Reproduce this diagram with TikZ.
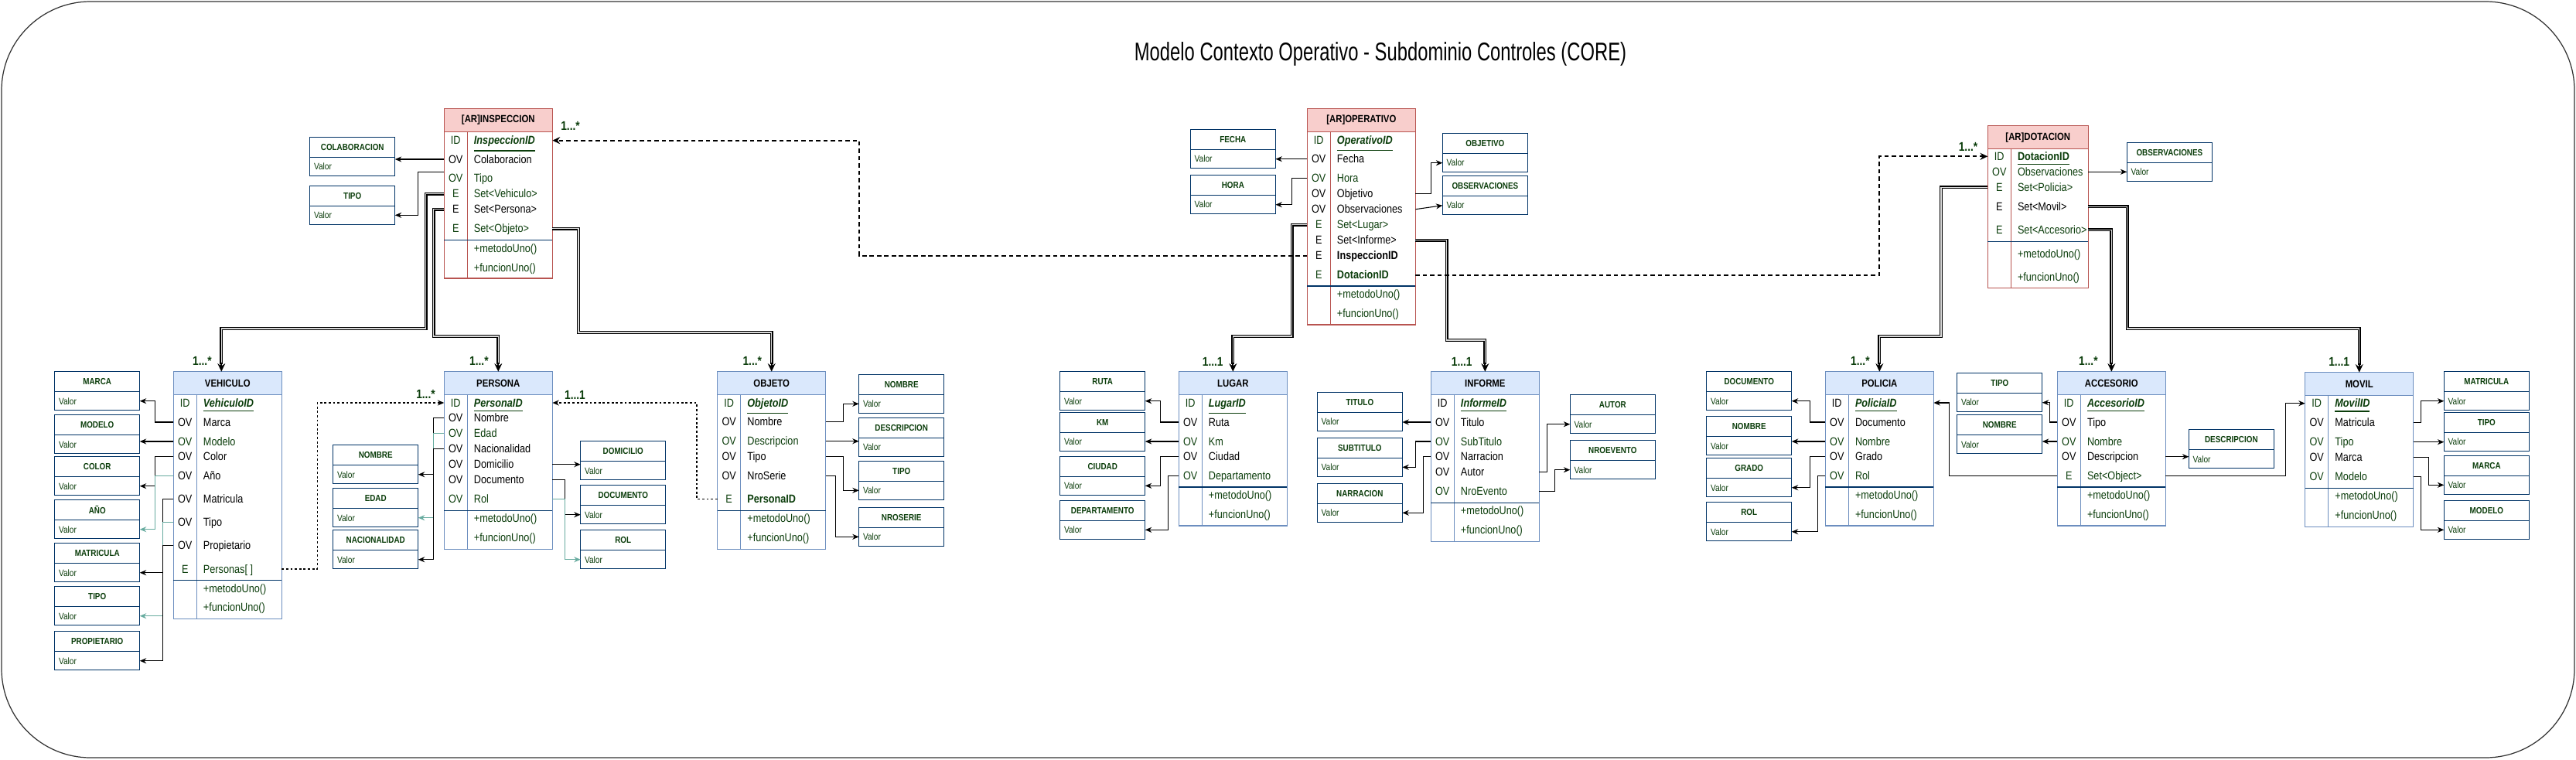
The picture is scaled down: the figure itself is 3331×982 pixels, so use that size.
\documentclass[tikz,border=0pt]{standalone}
\usepackage{fontspec}
\setmainfont[FakeStretch=0.85]{Liberation Sans}
\newfontfamily\fuentetitulo[FakeStretch=0.72]{Liberation Sans}
\usetikzlibrary{calc,positioning,arrows.meta}
\definecolor{verde}{HTML}{0B3D0B}
\definecolor{negro}{HTML}{000000}
\definecolor{azul}{HTML}{003366}
\definecolor{rojo}{HTML}{B85450}
\definecolor{rosa}{HTML}{F8CECC}
\definecolor{celeste}{HTML}{DAE8FC}
\definecolor{bordeazul}{HTML}{6C8EBF}
\definecolor{turquesa}{HTML}{67AB9F}

\begin{document}
\begin{tikzpicture}[x=0.01cm,y=-0.01cm]
        \tikzstyle {arcab} = [rectangle, draw=rojo, fill=rosa, line width=0.35pt, minimum width=1.4cm, minimum height=0.3cm, inner sep=0pt, outer sep=0pt, font=\fontsize{3.8}{4}\selectfont\bfseries]
        \tikzstyle {arcuerpo} = [rectangle, draw=rojo, fill=white, line width=0.35pt, minimum width=1.4cm, inner sep=0pt, outer sep=0pt]
        \tikzstyle {entcab} = [arcab, draw=bordeazul, fill=celeste]
        \tikzstyle {entcuerpo} = [arcuerpo, draw=bordeazul]
        \tikzstyle {fila} = [anchor=west, inner sep=0pt, text height=3pt, text depth=0pt, font=\fontsize{4.24}{5}\selectfont]
        \tikzstyle {etiq} = [fila, anchor=center]
        \tikzstyle {vtit} = [rectangle, draw=azul, fill=white, line width=0.35pt, minimum width=1.1cm, minimum height=0.26cm, inner sep=0pt, outer sep=0pt, anchor=north west, text=verde, font=\fontsize{3.3}{4}\selectfont\bfseries]
        \tikzstyle {vval} = [rectangle, draw=azul, fill=white, line width=0.35pt, text width=0.994cm, inner xsep=0.053cm, inner ysep=0pt, minimum height=0.24cm, align=left, outer sep=0pt, anchor=north, text=verde, font=\fontsize{3.4}{4}\selectfont]
        \tikzstyle {flecha} = [line width=0.3pt, -{Stealth[length=2.4pt,width=2pt]}]
        \tikzstyle {flechat} = [flecha, draw=turquesa]
        \tikzstyle {flechag} = [line width=0.5pt, -{Stealth[length=3pt,width=2.8pt]}]
        \tikzstyle {doble} = [draw=black, line width=0.35pt, double=gray!30, double distance=0.35pt]
        \tikzstyle {trazo} = [line width=0.5pt, dash pattern=on 1.6pt off 1.1pt, -{Stealth[length=2.8pt,width=2.6pt]}]
        \tikzstyle {punteado} = [line width=0.3pt, dash pattern=on 0.8pt off 0.8pt, -{Stealth[length=2.4pt,width=2pt]}]
        \tikzstyle {mult} = [inner sep=0pt, text=verde, font=\fontsize{4.6}{5}\selectfont\bfseries]
        \tikzstyle {separa} = [draw=azul, line width=0.35pt]
        \useasboundingbox (0,0) rectangle (3331,982);
        % Marco y titulo
        \coordinate (marco_a) at (2,2);
        \coordinate (marco_b) at (3329,980);
        \draw[draw=black!80, line width=0.35pt, rounded corners=1.15cm] (marco_a) rectangle (marco_b);
        \node (titulo) [font=\fuentetitulo\fontsize{9.4}{10}\selectfont] at (1785,70) {Modelo Contexto Operativo - Subdominio Controles (CORE)};

        % Inspeccion
        \node (insp) [arcab] at (644.3,155.5) {[AR]INSPECCION};
        \node (insp_c) [arcuerpo, minimum height=1.893cm, below=0pt of insp] {};
        \draw[draw=rojo, line width=0.35pt] ($(insp_c.north west)+(30,0)$) -- ($(insp_c.south west)+(30,0)$);
        \draw[separa] ($(insp_c.south west)+(0,-49.3)$) -- ($(insp_c.south east)+(0,-49.3)$);
        \foreach \nom/\etq/\col/\txt/\yy in {id/ID/verde/{\underline{\textbf{\textit{InspeccionID}}}}/181.7, colab/OV/negro/Colaboracion/206, tipo/OV/verde/Tipo/230.7, veh/E/verde/Set<Vehiculo>/250.7, per/E/negro/Set<Persona>/270.7, obj/E/verde/Set<Objeto>/295.7, m1//verde/+metodoUno()/321, m2//verde/+funcionUno()/346}
        {
            \node (insp_\nom_e) [etiq, text=\col] at ($(insp_c.west |- 0,\yy)+(15,0)$) {\etq};
            \node (insp_\nom) [fila, text=\col] at ($(insp_c.west |- 0,\yy)+(38,0)$) {\txt};
        }
        \foreach \nom/\xx/\yy/\txt in {colab/400.7/177.3/COLABORACION, itipo/400.7/240.3/TIPO}
        {
            \node (\nom) [vtit] at (\xx,\yy) {\txt};
            \node (\nom_v) [vval] at (\nom.south) {Valor};
        }
        \draw[flecha] (insp_c.west |- insp_colab) -- (colab_v.east |- insp_colab);
        \draw[flecha] ($(insp_c.west |- insp_tipo)+(0,-8)$) -- ++(-33.6,0) |- (itipo_v.east);

        % Operativo
        \node (oper) [arcab] at (1760.3,155.5) {[AR]OPERATIVO};
        \node (oper_c) [arcuerpo, minimum height=2.493cm, below=0pt of oper] {};
        \draw[draw=rojo, line width=0.35pt] ($(oper_c.north west)+(30,0)$) -- ($(oper_c.south west)+(30,0)$);
        \draw[separa] ($(oper_c.south west)+(0,-50)$) -- ($(oper_c.south east)+(0,-50)$);
        \foreach \nom/\etq/\col/\txt/\yy in {id/ID/verde/{\underline{\textbf{\textit{OperativoID}}}}/181, fecha/OV/negro/Fecha/205.7, hora/OV/verde/Hora/230.7, objetivo/OV/negro/Objetivo/250.7, obs/OV/negro/Observaciones/270.7, lugar/E/verde/Set<Lugar>/290.7, informe/E/negro/Set<Informe>/310.7, inspid/E/negro/\textbf{InspeccionID}/330.7, dotid/E/verde/\textbf{DotacionID}/355.7, m1//verde/+metodoUno()/380.7, m2//verde/+funcionUno()/405.7}
        {
            \node (oper_\nom_e) [etiq, text=\col] at ($(oper_c.west |- 0,\yy)+(15,0)$) {\etq};
            \node (oper_\nom) [fila, text=\col] at ($(oper_c.west |- 0,\yy)+(38,0)$) {\txt};
        }
        \foreach \nom/\xx/\yy/\txt in {fecha/1539.3/167.7/FECHA, hora/1539.3/226.7/HORA, objetivo/1865.3/172.7/OBJETIVO, obs/1865.3/227.7/OBSERVACIONES}
        {
            \node (\nom) [vtit] at (\xx,\yy) {\txt};
            \node (\nom_v) [vval] at (\nom.south) {Valor};
        }
        \draw[flecha] (oper_c.west |- oper_fecha) -- (fecha_v.east |- oper_fecha);
        \draw[flecha] (oper_c.west |- oper_hora) -- ++(-19.6,0) |- (hora_v.east);
        \draw[flecha] (oper_c.east |- oper_objetivo) -- ++(20,0) |- (objetivo_v.west);
        \draw[flecha] (oper_c.east |- oper_obs) -- (obs_v.west);

        % Dotacion
        \node (dota) [arcab, minimum width=1.3cm] at (2635.3,177.7) {[AR]DOTACION};
        \node (dota_c) [arcuerpo, minimum width=1.3cm, minimum height=1.796cm, below=0pt of dota] {};
        \draw[draw=rojo, line width=0.35pt] ($(dota_c.north west)+(30,0)$) -- ($(dota_c.south west)+(30,0)$);
        \draw[separa] ($(dota_c.south west)+(0,-60)$) -- ($(dota_c.south east)+(0,-60)$);
        \foreach \nom/\etq/\col/\txt/\yy in {id/ID/verde/{\underline{\textbf{DotacionID}}}/202.3, obs/OV/verde/Observaciones/222.3, pol/E/verde/Set<Policia>/242.3, mov/E/negro/Set<Movil>/267.3, acc/E/verde/Set<Accesorio>/297.3, m1//verde/+metodoUno()/328.3, m2//verde/+funcionUno()/358.3}
        {
            \node (dota_\nom_e) [etiq, text=\col] at ($(dota_c.west |- 0,\yy)+(15,0)$) {\etq};
            \node (dota_\nom) [fila, text=\col] at ($(dota_c.west |- 0,\yy)+(38,0)$) {\txt};
        }
        \node (dobs) [vtit] at (2750.3,184.3) {OBSERVACIONES};
        \node (dobs_v) [vval] at (dobs.south) {Valor};
        \draw[flecha] (dota_c.east |- dota_obs) -- (dobs_v.west |- dota_obs);

        % Vehiculo
        \node (vehi) [entcab] at (294.3,495.7) {VEHICULO};
        \node (vehi_c) [entcuerpo, minimum height=2.896cm, below=0pt of vehi] {};
        \draw[draw=bordeazul, line width=0.35pt] ($(vehi_c.north west)+(30,0)$) -- ($(vehi_c.south west)+(30,0)$);
        \draw[separa] ($(vehi_c.south west)+(0,-50)$) -- ($(vehi_c.south east)+(0,-50)$);
        \foreach \nom/\etq/\col/\txt/\yy in {id/ID/verde/{\underline{\textbf{\textit{VehiculoID}}}}/521, marca/OV/negro/Marca/546, modelo/OV/verde/Modelo/571, color/OV/negro/Color/590.7, anio/OV/negro/Año/615.7, matricula/OV/negro/Matricula/645.7, tipo/OV/negro/Tipo/675.7, prop/OV/negro/Propietario/705.7, pers/E/verde/Personas[ ]/736, m1//verde/+metodoUno()/761, m2//verde/+funcionUno()/785.7}
        {
            \node (vehi_\nom_e) [etiq, text=\col] at ($(vehi_c.west |- 0,\yy)+(15,0)$) {\etq};
            \node (vehi_\nom) [fila, text=\col] at ($(vehi_c.west |- 0,\yy)+(38,0)$) {\txt};
        }
        \foreach \nom/\xx/\yy/\txt in {vmarca/70.7/480.7/MARCA, vmodelo/70.7/536.7/MODELO, vcolor/70.7/590.7/COLOR, vanio/70.7/646.7/AÑO, vmatricula/70.7/702.7/MATRICULA, vtipo/70.7/758.7/TIPO, vprop/70.7/816.7/PROPIETARIO}
        {
            \node (\nom) [vtit] at (\xx,\yy) {\txt};
            \node (\nom_v) [vval] at (\nom.south) {Valor};
        }
        \draw[flecha] (vehi_c.west |- vehi_marca) -- ++(-23.6,0) |- (vmarca_v.east);
        \draw[flecha] (vehi_c.west |- vehi_modelo) -- (vmodelo_v.east |- vehi_modelo);
        \draw[flecha] (vehi_c.west |- vehi_color) -- ++(-23.6,0) |- (vcolor_v.east);
        \draw[flechat] (vehi_c.west |- vehi_anio) -- ++(-23.6,0) |- (vanio_v.east);
        \draw[flecha] (vehi_c.west |- vehi_matricula) -- ++(-13.6,0) |- (vmatricula_v.east);
        \draw[flechat] (vehi_c.west |- vehi_tipo) -- ++(-13.6,0) |- (vtipo_v.east);
        \draw[flecha] (vehi_c.west |- vehi_prop) -- ++(-13.6,0) |- (vprop_v.east);

        % Persona
        \node (pers) [entcab] at (644.3,495.7) {PERSONA};
        \node (pers_c) [entcuerpo, minimum height=1.993cm, below=0pt of pers] {};
        \draw[draw=bordeazul, line width=0.35pt] ($(pers_c.north west)+(30,0)$) -- ($(pers_c.south west)+(30,0)$);
        \draw[separa] ($(pers_c.south west)+(0,-50)$) -- ($(pers_c.south east)+(0,-50)$);
        \foreach \nom/\etq/\col/\txt/\yy in {id/ID/verde/{\underline{\textbf{\textit{PersonaID}}}}/521, nombre/OV/negro/Nombre/540.7, edad/OV/verde/Edad/560.7, nac/OV/negro/Nacionalidad/580.7, dom/OV/negro/Domicilio/600.7, doc/OV/negro/Documento/620.7, rol/OV/verde/Rol/645.7, m1//verde/+metodoUno()/670.7, m2//verde/+funcionUno()/695.7}
        {
            \node (pers_\nom_e) [etiq, text=\col] at ($(pers_c.west |- 0,\yy)+(15,0)$) {\etq};
            \node (pers_\nom) [fila, text=\col] at ($(pers_c.west |- 0,\yy)+(38,0)$) {\txt};
        }
        \foreach \nom/\xx/\yy/\txt in {pnombre/430.7/575.7/NOMBRE, pedad/430.7/631.7/EDAD, pnac/430.7/685.7/NACIONALIDAD, pdom/750.7/570.7/DOMICILIO, pdoc/750.7/627.7/DOCUMENTO, prol/750.7/685.7/ROL}
        {
            \node (\nom) [vtit] at (\xx,\yy) {\txt};
            \node (\nom_v) [vval] at (\nom.south) {Valor};
        }
        \draw[flecha] (pers_c.west |- pers_nombre) -- ++(-13.6,0) |- (pnombre_v.east);
        \draw[flechat] (pers_c.west |- pers_edad) -- ++(-13.6,0) |- (pedad_v.east);
        \draw[flecha] (pers_c.west |- pers_nac) -- ++(-13.6,0) |- (pnac_v.east);
        \draw[flecha] (pers_c.east |- pers_dom) -- (pdom_v.west |- pers_dom);
        \draw[flecha] (pers_c.east |- pers_doc) -- ++(15.7,0) |- (pdoc_v.west);
        \draw[flechat] (pers_c.east |- pers_rol) -- ++(15.7,0) |- (prol_v.west);

        % Objeto
        \node (obje) [entcab] at (997.7,495.7) {OBJETO};
        \node (obje_c) [entcuerpo, minimum height=1.993cm, below=0pt of obje] {};
        \draw[draw=bordeazul, line width=0.35pt] ($(obje_c.north west)+(30,0)$) -- ($(obje_c.south west)+(30,0)$);
        \draw[separa] ($(obje_c.south west)+(0,-50)$) -- ($(obje_c.south east)+(0,-50)$);
        \foreach \nom/\etq/\col/\txt/\yy in {id/ID/verde/{\underline{\textbf{\textit{ObjetoID}}}}/521, nombre/OV/negro/Nombre/545.7, desc/OV/verde/Descripcion/570.7, tipo/OV/negro/Tipo/590.7, serie/OV/negro/NroSerie/615.7, perid/E/verde/\textbf{PersonaID}/645.7, m1//verde/+metodoUno()/670.7, m2//verde/+funcionUno()/695.7}
        {
            \node (obje_\nom_e) [etiq, text=\col] at ($(obje_c.west |- 0,\yy)+(15,0)$) {\etq};
            \node (obje_\nom) [fila, text=\col] at ($(obje_c.west |- 0,\yy)+(38,0)$) {\txt};
        }
        \foreach \nom/\xx/\yy/\txt in {onombre/1110.7/484.3/NOMBRE, odesc/1110.7/540.3/DESCRIPCION, otipo/1110.7/596.3/TIPO, oserie/1110.7/656.3/NROSERIE}
        {
            \node (\nom) [vtit] at (\xx,\yy) {\txt};
            \node (\nom_v) [vval] at (\nom.south) {Valor};
        }
        \draw[flecha] (obje_c.east |- obje_nombre) -- ++(23,0) |- (onombre_v.west);
        \draw[flecha] (obje_c.east |- obje_desc) -- (odesc_v.west |- obje_desc);
        \draw[flecha] (obje_c.east |- obje_tipo) -- ++(23,0) |- (otipo_v.west);
        \draw[flecha] (obje_c.east |- obje_serie) -- ++(13,0) |- (oserie_v.west);

        % Lugar
        \node (luga) [entcab] at (1594.3,495.7) {LUGAR};
        \node (luga_c) [entcuerpo, minimum height=1.693cm, below=0pt of luga] {};
        \draw[draw=bordeazul, line width=0.35pt] ($(luga_c.north west)+(30,0)$) -- ($(luga_c.south west)+(30,0)$);
        \draw[separa] ($(luga_c.south west)+(0,-50)$) -- ($(luga_c.south east)+(0,-50)$);
        \foreach \nom/\etq/\col/\txt/\yy in {id/ID/verde/{\underline{\textbf{\textit{LugarID}}}}/521, ruta/OV/negro/Ruta/546, km/OV/verde/Km/571, ciudad/OV/negro/Ciudad/590.7, depto/OV/verde/Departamento/615.7, m1//verde/+metodoUno()/640.7, m2//verde/+funcionUno()/665.7}
        {
            \node (luga_\nom_e) [etiq, text=\col] at ($(luga_c.west |- 0,\yy)+(15,0)$) {\etq};
            \node (luga_\nom) [fila, text=\col] at ($(luga_c.west |- 0,\yy)+(38,0)$) {\txt};
        }
        \foreach \nom/\xx/\yy/\txt in {lruta/1370.7/480.7/RUTA, lkm/1370.7/533.3/KM, lciudad/1370.7/590.3/CIUDAD, ldepto/1370.7/647.3/DEPARTAMENTO}
        {
            \node (\nom) [vtit] at (\xx,\yy) {\txt};
            \node (\nom_v) [vval] at (\nom.south) {Valor};
        }
        \draw[flecha] (luga_c.west |- luga_ruta) -- ++(-23.6,0) |- (lruta_v.east);
        \draw[flecha] (luga_c.west |- luga_km) -- (lkm_v.east |- luga_km);
        \draw[flecha] (luga_c.west |- luga_ciudad) -- ++(-23.6,0) |- (lciudad_v.east);
        \draw[flecha] (luga_c.west |- luga_depto) -- ++(-13.6,0) |- (ldepto_v.east);

        % Informe
        \node (info) [entcab] at (1920.3,495.7) {INFORME};
        \node (info_c) [entcuerpo, minimum height=1.893cm, below=0pt of info] {};
        \draw[draw=bordeazul, line width=0.35pt] ($(info_c.north west)+(30,0)$) -- ($(info_c.south west)+(30,0)$);
        \draw[separa] ($(info_c.south west)+(0,-49.3)$) -- ($(info_c.south east)+(0,-49.3)$);
        \foreach \nom/\etq/\col/\txt/\yy in {id/ID/negro/{\color{verde}\underline{\textbf{\textit{InformeID}}}}/521, titulo/OV/negro/Titulo/546, sub/OV/verde/SubTitulo/571, narr/OV/negro/Narracion/590.7, autor/OV/negro/Autor/610.7, evento/OV/verde/NroEvento/635.7, m1//verde/+metodoUno()/660.7, m2//verde/+funcionUno()/685.7}
        {
            \node (info_\nom_e) [etiq, text=\col] at ($(info_c.west |- 0,\yy)+(15,0)$) {\etq};
            \node (info_\nom) [fila, text=\col] at ($(info_c.west |- 0,\yy)+(38,0)$) {\txt};
        }
        \foreach \nom/\xx/\yy/\txt in {ititulo/1703.3/507.3/TITULO, isub/1703.3/566.3/SUBTITULO, inarr/1703.3/625.3/NARRACION, iautor/2030.3/510.7/AUTOR, ievento/2030.3/569.7/NROEVENTO}
        {
            \node (\nom) [vtit] at (\xx,\yy) {\txt};
            \node (\nom_v) [vval] at (\nom.south) {Valor};
        }
        \draw[flecha] (info_c.west |- info_titulo) -- (ititulo_v.east |- info_titulo);
        \draw[flecha] (info_c.west |- info_sub) -- ++(-19.6,0) |- (isub_v.east);
        \draw[flecha] (info_c.west |- info_narr) -- ++(-9.6,0) |- (inarr_v.east);
        \draw[flecha] (info_c.east |- info_autor) -- ++(10.4,0) |- (iautor_v.west);
        \draw[flecha] (info_c.east |- info_evento) -- ++(20.4,0) |- (ievento_v.west);

        % Policia
        \node (poli) [entcab] at (2430.3,495.7) {POLICIA};
        \node (poli_c) [entcuerpo, minimum height=1.693cm, below=0pt of poli] {};
        \draw[draw=bordeazul, line width=0.35pt] ($(poli_c.north west)+(30,0)$) -- ($(poli_c.south west)+(30,0)$);
        \draw[separa] ($(poli_c.south west)+(0,-50)$) -- ($(poli_c.south east)+(0,-50)$);
        \foreach \nom/\etq/\col/\txt/\yy in {id/ID/negro/{\color{verde}\underline{\textbf{\textit{PoliciaID}}}}/521, doc/OV/negro/Documento/546, nombre/OV/verde/Nombre/571, grado/OV/negro/Grado/590.7, rol/OV/verde/Rol/615.7, m1//verde/+metodoUno()/640.7, m2//verde/+funcionUno()/665.7}
        {
            \node (poli_\nom_e) [etiq, text=\col] at ($(poli_c.west |- 0,\yy)+(15,0)$) {\etq};
            \node (poli_\nom) [fila, text=\col] at ($(poli_c.west |- 0,\yy)+(38,0)$) {\txt};
        }
        \foreach \nom/\xx/\yy/\txt in {cdoc/2206.7/480.7/DOCUMENTO, cnombre/2206.7/538.7/NOMBRE, cgrado/2206.7/592.7/GRADO, crol/2206.7/649.7/ROL}
        {
            \node (\nom) [vtit] at (\xx,\yy) {\txt};
            \node (\nom_v) [vval] at (\nom.south) {Valor};
        }
        \draw[flecha] (poli_c.west |- poli_doc) -- ++(-19.6,0) |- (cdoc_v.east);
        \draw[flecha] (poli_c.west |- poli_nombre) -- (cnombre_v.east |- poli_nombre);
        \draw[flecha] (poli_c.west |- poli_grado) -- ++(-19.6,0) |- (cgrado_v.east);
        \draw[flecha] (poli_c.west |- poli_rol) -- ++(-9.6,0) |- (crol_v.east);

        % Accesorio
        \node (acce) [entcab] at (2730.3,495.7) {ACCESORIO};
        \node (acce_c) [entcuerpo, minimum height=1.693cm, below=0pt of acce] {};
        \draw[draw=bordeazul, line width=0.35pt] ($(acce_c.north west)+(30,0)$) -- ($(acce_c.south west)+(30,0)$);
        \draw[separa] ($(acce_c.south west)+(0,-50)$) -- ($(acce_c.south east)+(0,-50)$);
        \foreach \nom/\etq/\col/\txt/\yy in {id/ID/verde/{\underline{\textbf{\textit{AccesorioID}}}}/521, tipo/OV/negro/Tipo/546, nombre/OV/verde/Nombre/571, desc/OV/negro/Descripcion/590.7, obj/E/verde/Set<Object>/615.7, m1//verde/+metodoUno()/640.7, m2//verde/+funcionUno()/665.7}
        {
            \node (acce_\nom_e) [etiq, text=\col] at ($(acce_c.west |- 0,\yy)+(15,0)$) {\etq};
            \node (acce_\nom) [fila, text=\col] at ($(acce_c.west |- 0,\yy)+(38,0)$) {\txt};
        }
        \foreach \nom/\xx/\yy/\txt in {atipo/2530.7/482.7/TIPO, anombre/2530.7/536.7/NOMBRE, adesc/2830.3/555.7/DESCRIPCION}
        {
            \node (\nom) [vtit] at (\xx,\yy) {\txt};
            \node (\nom_v) [vval] at (\nom.south) {Valor};
        }
        \draw[flecha] (acce_c.west |- acce_tipo) -- ++(-9.6,0) |- (atipo_v.east);
        \draw[flecha] (acce_c.west |- acce_nombre) -- (anombre_v.east |- acce_nombre);
        \draw[flecha] (acce_c.east |- acce_desc) -- (adesc_v.west |- acce_desc);

        % Movil
        \node (movi) [entcab] at (3050.7,496.7) {MOVIL};
        \node (movi_c) [entcuerpo, minimum height=1.696cm, below=0pt of movi] {};
        \draw[draw=bordeazul, line width=0.35pt] ($(movi_c.north west)+(30,0)$) -- ($(movi_c.south west)+(30,0)$);
        \draw[separa] ($(movi_c.south west)+(0,-50)$) -- ($(movi_c.south east)+(0,-50)$);
        \foreach \nom/\etq/\col/\txt/\yy in {id/ID/verde/{\underline{\textbf{\textit{MovilID}}}}/521.7, mat/OV/negro/Matricula/546.7, tipo/OV/verde/Tipo/571.7, marca/OV/negro/Marca/591.7, modelo/OV/verde/Modelo/616.7, m1//verde/+metodoUno()/641.7, m2//verde/+funcionUno()/666.7}
        {
            \node (movi_\nom_e) [etiq, text=\col] at ($(movi_c.west |- 0,\yy)+(15,0)$) {\etq};
            \node (movi_\nom) [fila, text=\col] at ($(movi_c.west |- 0,\yy)+(38,0)$) {\txt};
        }
        \foreach \nom/\xx/\yy/\txt in {mmat/3160.3/480.7/MATRICULA, mtipo/3160.3/533.3/TIPO, mmarca/3160.3/589.3/MARCA, mmodelo/3160.3/647.3/MODELO}
        {
            \node (\nom) [vtit] at (\xx,\yy) {\txt};
            \node (\nom_v) [vval] at (\nom.south) {Valor};
        }
        \draw[flecha] (movi_c.east |- movi_mat) -- ++(10,0) |- (mmat_v.west);
        \draw[flecha] (movi_c.east |- movi_tipo) -- (mtipo_v.west |- movi_tipo);
        \draw[flecha] (movi_c.east |- movi_marca) -- ++(19.6,0) |- (mmarca_v.west);
        \draw[flecha] (movi_c.east |- movi_modelo) -- ++(10,0) |- (mmodelo_v.west);

        % Composiciones (lineas dobles)
        \coordinate (vehi_in) at ($(vehi.north)+(-8,0)$);
        \draw[doble] (insp_c.west |- insp_veh) -- ++(-23.6,0) |- (vehi_in |- 0,425) -- ($(vehi_in)+(0,-10)$);
        \draw[flechag] ($(vehi_in)+(0,-12)$) -- (vehi_in);
        \node (m_vehi) [mult, anchor=east] at ($(vehi_in)+(-12,-14)$) {1...*};
        \draw[doble] (insp_c.west |- insp_per) -- ++(-13.6,0) |- (pers.north |- 0,435) -- ($(pers.north)+(0,-10)$);
        \draw[flechag] ($(pers.north)+(0,-12)$) -- (pers.north);
        \node (m_pers) [mult, anchor=east] at ($(pers.north)+(-12,-14)$) {1...*};
        \draw[doble] (insp_c.east |- insp_obj) -- ++(33.7,0) |- (obje.north |- 0,430) -- ($(obje.north)+(0,-10)$);
        \draw[flechag] ($(obje.north)+(0,-12)$) -- (obje.north);
        \node (m_obje) [mult, anchor=east] at ($(obje.north)+(-12,-14)$) {1...*};
        \draw[doble] (oper_c.west |- oper_lugar) -- ++(-19.6,0) |- (luga.north |- 0,435) -- ($(luga.north)+(0,-10)$);
        \draw[flechag] ($(luga.north)+(0,-12)$) -- (luga.north);
        \node (m_luga) [mult, anchor=east] at ($(luga.north)+(-12,-13)$) {1...1};
        \draw[doble] (oper_c.east |- oper_informe) -- ++(40.4,0) |- (info.north |- 0,440) -- ($(info.north)+(0,-10)$);
        \draw[flechag] ($(info.north)+(0,-12)$) -- (info.north);
        \node (m_info) [mult, anchor=east] at ($(info.north)+(-16,-13)$) {1...1};
        \draw[doble] (dota_c.west |- dota_pol) -- ++(-60.3,0) |- (poli.north |- 0,435) -- ($(poli.north)+(0,-10)$);
        \draw[flechag] ($(poli.north)+(0,-12)$) -- (poli.north);
        \node (m_poli) [mult, anchor=east] at ($(poli.north)+(-12,-14)$) {1...*};
        \draw[doble] (dota_c.east |- dota_acc) -| ($(acce.north)+(0,-10)$);
        \draw[flechag] ($(acce.north)+(0,-12)$) -- (acce.north);
        \node (m_acce) [mult, anchor=east] at ($(acce.north)+(-17,-14)$) {1...*};
        \draw[doble] (dota_c.east |- dota_mov) -- ++(50.4,0) |- (movi.north |- 0,425) -- ($(movi.north)+(0,-10)$);
        \draw[flechag] ($(movi.north)+(0,-12)$) -- (movi.north);
        \node (m_movi) [mult, anchor=east] at ($(movi.north)+(-12,-14)$) {1...1};

        % Referencias
        \draw[trazo] (oper_c.west |- oper_inspid) -- ++(-579.3,0) |- (insp_c.east |- insp_id);
        \node (m_insp) [mult] at (737.5,163) {1...*};
        \draw[trazo] (oper_c.east |- oper_dotid) -- ++(599.7,0) |- (dota_c.west |- dota_id);
        \node (m_dota) [mult] at (2545,190) {1...*};
        \draw[punteado] (vehi_c.east |- vehi_pers) -- ++(45.7,0) |- (pers_c.west |- pers_id);
        \node (m_pers_a) [mult] at (550.5,510) {1...*};
        \draw[punteado] (obje_c.west |- obje_perid) -- ++(-26.7,0) |- (pers_c.east |- pers_id);
        \node (m_pers_b) [mult] at (743.5,511) {1...1};
        \draw[flecha] (acce_c.west |- acce_obj) -- ++(-139.6,0) |- (poli_c.east |- poli_id);
        \draw[flecha] (acce_c.east |- acce_obj) -- ++(154.7,0) |- (movi_c.west |- movi_id);
\end{tikzpicture}
\end{document}
